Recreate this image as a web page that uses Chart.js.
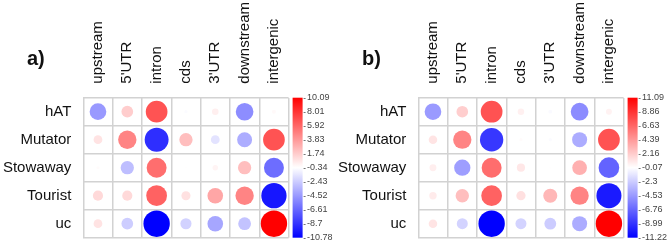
<!DOCTYPE html>
<html>
<head>
<meta charset="utf-8">
<script src="https://cdn.jsdelivr.net/npm/chart.js@4"></script>
<style>
  html, body { margin: 0; padding: 0; background: #fff; overflow: hidden; }
  #wrap { position: relative; width: 669px; height: 243px; overflow: hidden; }
  .panel { position: absolute; top: 0; width: 335px; height: 243px; }
  .tag { position: absolute; left: 27px; top: 48px; font: bold 20px "Liberation Sans", Arial, sans-serif; line-height: 1; color: #111; }
</style>
</head>
<body>
<div id="wrap">
  <div class="panel" style="left:0"><canvas id="chartA" width="335" height="243"></canvas><div class="tag">a)</div></div>
  <div class="panel" style="left:335px"><canvas id="chartB" width="335" height="243"></canvas><div class="tag">b)</div></div>
</div>
<script>
const columns = ["upstream", "5'UTR", "intron", "cds", "3'UTR", "downstream", "intergenic"];
const families = ["hAT", "Mutator", "Stowaway", "Tourist", "uc"];

// a) one row per family, one value per column
const valuesA = [
  [-4.5, 1.7, 6.7, -0.5, 0.3, -5.0, -0.1],
  [0.8, 4.7, -8.9, 2.3, -1.5, -3.7, 6.7],
  [-0.2, -3.0, 5.6, -0.3, 0.1, 2.3, -6.3],
  [1.2, 1.2, 6.1, 0.9, 3.3, 4.7, -9.9],
  [0.8, -2.4, -10.78, -2.2, -4.0, -2.8, 10.09]
];
const ticksA = [10.09, 8.01, 5.92, 3.83, 1.74, -0.34, -2.43, -4.52, -6.61, -8.7, -10.78];

// b)
const valuesB = [
  [-4.5, 2.1, 7.5, 0.6, -0.3, -5.1, 0.5],
  [1.1, 5.3, -8.8, 0.1, -0.25, -3.7, 7.5],
  [0.7, -4.3, 6.3, 1.0, 0.0, 3.4, -6.9],
  [0.8, 2.8, 6.8, 1.3, 3.1, 5.3, -10.1],
  [1.1, -2.0, -11.22, -2.0, -2.3, -3.7, 11.09]
];
const ticksB = [11.09, 8.86, 6.63, 4.39, 2.16, -0.07, -2.3, -4.53, -6.76, -8.99, -11.22];

const FONT = '"Liberation Sans", Arial, sans-serif';
const gridColor = '#d2d2d2';
const PLOT_LEFT = 83.3, PLOT_RIGHT = 288.6, PLOT_TOP = 97.7;
const CELL = (PLOT_RIGHT - PLOT_LEFT) / columns.length;

// value -> [-1, 1] around the middle of the colour range
function scaled(v, ticks) {
  const hi = ticks[0], lo = ticks[ticks.length - 1];
  const s = (v - (hi + lo) / 2) / ((hi - lo) / 2);
  return Math.max(-1, Math.min(1, s));
}

function colorFor(s) {
  const k = Math.round(255 * (1 - Math.abs(s)));
  return s >= 0 ? `rgb(255,${k},${k})` : `rgb(${k},${k},255)`;
}

// no extra room around the scales, the layout is fixed by hand
function noPad(s) {
  s.paddingTop = 0;
  s.paddingBottom = 0;
  s.paddingLeft = 0;
  s.paddingRight = 0;
}

const colorbar = {
  id: 'colorbar',
  afterDraw(chart) {
    const sc = chart.scales.cbar;
    const ctx = chart.ctx;
    const x0 = chart.chartArea.right + 4, w = 10;
    const g = ctx.createLinearGradient(0, sc.top, 0, sc.bottom);
    g.addColorStop(0, '#ff0000');
    g.addColorStop(0.5, '#ffffff');
    g.addColorStop(1, '#0000ff');
    ctx.save();
    ctx.fillStyle = g;
    ctx.fillRect(x0, sc.top, w, sc.bottom - sc.top);
    ctx.strokeStyle = '#777';
    ctx.lineWidth = 1;
    sc.ticks.forEach(t => {
      const y = Math.round(sc.getPixelForValue(t.value)) + 0.5;
      ctx.beginPath();
      ctx.moveTo(x0 + w + 1, y);
      ctx.lineTo(x0 + w + 3, y);
      ctx.stroke();
    });
    ctx.restore();
  }
};

function buildChart(id, values, ticks) {
  const points = [];
  families.forEach((f, r) => {
    columns.forEach((c, k) => {
      const s = scaled(values[r][k], ticks);
      points.push({ x: c, y: f, r: 0.45 * CELL * Math.sqrt(Math.abs(s)), v: values[r][k] });
    });
  });

  return new Chart(document.getElementById(id), {
    type: 'bubble',
    data: {
      datasets: [{
        data: points,
        borderWidth: 0,
        backgroundColor: ctx => ctx.raw ? colorFor(scaled(ctx.raw.v, ticks)) : '#fff'
      }]
    },
    options: {
      responsive: false,
      animation: false,
      events: [],
      layout: { autoPadding: false, padding: { top: 0, left: 0, right: 0, bottom: 5.3 } },
      plugins: { legend: { display: false }, tooltip: { enabled: false } },
      scales: {
        x: {
          type: 'category',
          labels: columns,
          position: 'top',
          offset: true,
          grid: { offset: true, color: gridColor, lineWidth: 1.5, drawTicks: false },
          border: { display: false },
          ticks: { minRotation: 90, maxRotation: 90, autoSkip: false, padding: 14, labelOffset: 18, color: '#111', font: { size: 15, family: FONT } },
          afterFit: s => { noPad(s); s.height = PLOT_TOP; }
        },
        y: {
          type: 'category',
          labels: families,
          position: 'left',
          offset: true,
          grid: { offset: true, color: gridColor, lineWidth: 1.5, drawTicks: false },
          border: { display: false },
          ticks: { autoSkip: false, padding: 12, color: '#111', font: { size: 15, family: FONT } },
          afterFit: s => { noPad(s); s.width = PLOT_LEFT; }
        },
        cbar: {
          type: 'linear',
          position: 'right',
          min: ticks[ticks.length - 1],
          max: ticks[0],
          grid: { display: false, drawTicks: false, tickLength: 0 },
          border: { display: false },
          ticks: { autoSkip: false, padding: 18.5, color: '#444', font: { size: 9, family: FONT }, callback: v => String(v) },
          afterBuildTicks: s => { s.ticks = ticks.map(v => ({ value: v })); },
          afterFit: s => { noPad(s); s.width = 335 - PLOT_RIGHT; }
        }
      }
    },
    plugins: [colorbar]
  });
}

buildChart('chartA', valuesA, ticksA);
buildChart('chartB', valuesB, ticksB);
</script>
</body>
</html>
